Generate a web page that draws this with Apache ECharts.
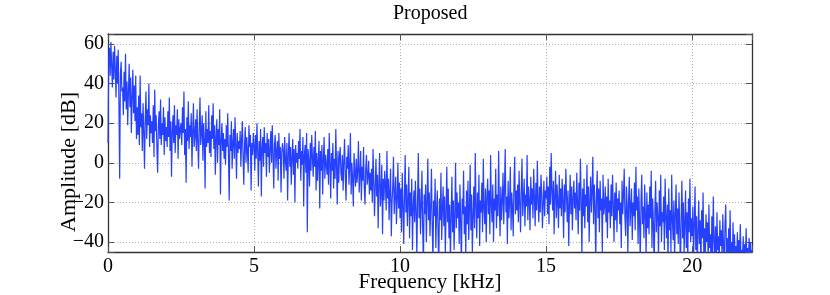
<!DOCTYPE html>
<html>
<head>
<meta charset="utf-8">
<script src="https://cdn.jsdelivr.net/npm/echarts@6/dist/echarts.min.js"></script>
<style>
html,body{margin:0;padding:0;background:#fff;}
#chart{width:830px;height:295px;}
</style>
</head>
<body>
<div id="chart"></div>
<script>
// Frequency spacing of the spectrum samples (kHz)
const freqStep = 0.025;
// Amplitude [dB], 0 - 5 kHz
const amp0to5 = [
  10, 52, 58, 44, 61, 49, 38, 56, 42, 59, 47, 33, 54, 40, 57, 29, -8, 45, 51, 36,
  38, 24, 46, 31, 55, 27, 41, 19, 36, 50, 28, 43, 15, 33, 47, 25, 39, 21, 44, 12,
  28, 14, 34, 9, 44, 18, 25, 6, 30, 16, -3, 22, 36, 12, 27, 19, 40, 8, 24, 15,
  21, 10, 29, 3, 37, 16, 24, 7, -5, 19, 26, 12, 32, 9, 20, 14, 28, 4, 23, 11,
  18, 8, 26, 13, 33, 6, 21, -7, 16, 24, 10, 29, 5, 19, 14, 27, 2, 22, 12, 17,
  20, 9, 28, 15, 36, 4, 17, -10, 23, 11, 31, 7, 19, 13, 25, -2, 16, 30, 8, 14,
  22, 6, 27, 11, -3, 18, 33, 9, 15, 24, 1, 20, 12, -13, 26, 8, 17, 10, 29, 5,
  16, 3, 24, 12, 30, 7, 19, -6, 13, 22, 0, 17, 9, 27, -16, 11, 20, 6, 15, 2,
  12, -1, 19, 8, 25, 4, -19, 14, 6, 21, -3, 10, 17, 2, 23, 9, -8, 15, 5, 11,
  7, 16, -2, 12, 21, 3, -11, 9, 18, 0, 13, 6, -5, 19, 8, 14, -14, 10, 4, 15
];
// 5 - 10 kHz
const amp5to10 = [
  9, -4, 14, 2, 20, 6, -12, 11, 1, 17, -17, 8, 13, -2, 18, 5, 10, -7, 15, 3,
  12, -5, 7, 16, 0, 19, 4, -13, 9, 14, -3, 6, 11, -9, 15, 2, 8, -15, 5, 10,
  6, -8, 13, 1, -4, 10, -19, 4, 15, -2, 8, -11, 3, 12, -6, 7, -20, 9, 0, 5,
  -3, 11, 2, 17, -9, 6, -1, 13, -22, 4, 9, -5, 15, -35, 7, 1, -12, 10, -4, 14,
  3, -7, 8, -2, 16, -14, 5, -9, 1, 11, -23, 6, -4, 9, -16, 2, 13, -8, 4, -1,
  -6, 7, -11, 15, 0, -18, 5, -4, 10, -13, 2, -8, 17, -2, -21, 6, -10, 3, 8, -5,
  -9, 4, -14, 1, 12, -7, -19, 3, -3, 9, -11, -1, 15, -16, 0, -8, -22, 5, -5, -12,
  2, -10, -4, 11, -15, -6, 6, -19, -2, -9, 8, -13, -21, -3, 4, -11, -7, 1, -16, -5,
  -14, -3, -20, 7, -9, -27, -12, 2, -17, -6, -33, -10, 5, -22, -15, -1, -36, -8, -19, -4,
  -11, -24, 6, -18, -8, -29, -14, -3, -37, -20, -12, 3, -26, -16, -7, -31, -19, 0, -23, -10
];
// 10 - 15 kHz
const amp10to15 = [
  -28, -13, -35, -5, -21, -41, -17, 4, -25, -11, -32, -19, -2, -38, -15, -27, -8, -44, -22, -14,
  -30, -9, -24, -47, -18, 5, -28, -13, -36, -21, -4, -33, -52, -16, -26, -11, -40, -20, 2, -29,
  -15, -37, -22, -3, -31, -50, -19, -27, -8, -43, -24, -14, -34, -55, -18, -29, -5, -39, -23, -12,
  -32, -17, -46, -25, -2, -30, -13, -38, -21, -49, -27, -7, -35, -19, -44, -26, 0, -33, -15, -28,
  -20, -41, -11, -30, -53, -18, -26, -4, -36, -22, -47, -14, -31, -9, -39, -24, -1, -34, -16, -45,
  -27, -12, -33, 5, -21, -38, -15, -28, -6, -42, -19, -25, -10, -35, 2, -23, -31, -13, -40, -17,
  -8, -26, -14, -36, 4, -21, -30, -11, -40, -18, -24, -3, -33, -16, -27, 6, -22, -37, -12, -29,
  -19, -5, -31, -13, 7, -25, -17, -41, -9, -28, -20, -2, -34, -15, -23, -37, -10, 3, -26, -14,
  -24, -11, -30, -4, -20, -35, -14, 2, -27, -18, -8, -32, -16, -22, 4, -29, -12, -19, -34, -7,
  -21, -13, -28, -3, -17, -32, -10, -24, 1, -19, -30, -12, -25, -6, -15, -33, -20, -9, -27, -14
];
// 15 - 22.05 kHz
const amp15to22 = [
  -18, -7, -26, -12, -31, -2, -21, 5, -14, -24, -9, -36, -16, -4, -28, -11, -20, -33, -6, -23,
  -13, -27, -8, -19, -38, -11, -25, -3, -17, -30, -14, -42, -21, -6, -26, -12, -34, -18, -9, -23,
  -15, -29, -5, -20, -36, -10, -24, 2, -18, -47, -13, -27, -8, -33, -16, -22, -1, -30, -12, -40,
  -19, -7, -25, -14, 3, -31, -11, -21, -52, -16, -4, -28, -13, -35, -9, -24, -18, -45, -6, -26,
  -22, -12, -30, -17, -38, -8, -25, -19, -33, -11, -27, -6, -21, -40, -15, -29, -10, -35, -18, -24,
  -14, -31, -20, -43, -9, -26, -16, -3, -28, -37, -12, -22, -46, -18, -7, -32, -23, -13, -39, -20,
  -27, -10, -34, -2, -24, -17, -41, -13, -29, -50, -19, -6, -31, -22, -38, -11, -26, -47, -15, -33,
  -21, -36, -12, -28, -4, -43, -18, -31, -55, -24, -9, -35, -20, -27, -48, -14, -32, -6, -40, -25,
  -30, -17, -44, -8, -27, -38, -21, -52, -13, -34, -24, -45, -6, -29, -39, -19, -50, -26, -11, -36,
  -23, -41, -15, -33, -55, -27, -9, -38, -20, -46, -30, -14, -43, -25, -52, -18, -35, -8, -40, -28,
  -37, -22, -48, -31, -12, -44, -27, -53, -35, -19, -41, -29, -56, -24, -38, -15, -46, -33, -50, -26,
  -40, -30, -51, -21, -43, -36, -55, -27, -47, -17, -39, -49, -32, -58, -25, -44, -37, -52, -29, -42,
  -34, -48, -26, -43, -54, -31, -21, -46, -38, -57, -33, -45, -24, -50, -40, -55, -30, -47, -36, -52,
  -42, -49, -35, -53, -39, -46, -31, -51, -44, -48, -37, -56, -41, -47, -33, -52, -43, -50, -38, -45,
  -40, -48, -44
];
const xTickLabels = [0, 5, 10, 15, 20];
const yTickLabels = [-40, -20, 0, 20, 40, 60];
const titleText = 'Proposed';
const xName = 'Frequency [kHz]';
const yName = 'Amplitude [dB]';

const amps = amp0to5.concat(amp5to10, amp10to15, amp15to22);
const seriesData = amps.map((v, i) => [Math.round(i * freqStep * 1000) / 1000, v]);

const FONT = 'Liberation Serif';
const chart = echarts.init(document.getElementById('chart'), null, {renderer: 'canvas'});
const tickStyle = {show: true, inside: true, length: 6, lineStyle: {color: '#555', width: 1}};
const axisLineStyle = {show: true, onZero: false, lineStyle: {color: '#333', width: 1.3}};
const gridLine = {show: true, lineStyle: {color: '#b0b0b0', type: [1, 2], width: 1}};

chart.setOption({
  animation: false,
  backgroundColor: '#fff',
  title: {
    text: titleText, left: 388, top: -1,
    textStyle: {fontFamily: FONT, fontSize: 20, fontWeight: 'normal', color: '#000'}
  },
  grid: {left: 108, right: 78, top: 34, bottom: 43, containLabel: false, outerBoundsMode: 'none'},
  xAxis: [{
    type: 'value', min: 0, max: 22.05, splitNumber: 5,
    name: xName, nameLocation: 'middle', nameGap: 20, nameMoveOverlap: false,
    nameTextStyle: {fontFamily: FONT, fontSize: 21, color: '#000'},
    axisLine: axisLineStyle, axisTick: tickStyle, splitLine: gridLine,
    axisLabel: {
      fontFamily: FONT, fontSize: 20, color: '#000', margin: 5,
      formatter: v => (xTickLabels.indexOf(v) >= 0 ? String(v) : '')
    }
  }, {
    type: 'value', min: 0, max: 22.05, splitNumber: 5, position: 'top',
    axisLine: axisLineStyle, axisTick: tickStyle, splitLine: {show: false},
    axisLabel: {show: false}
  }],
  yAxis: [{
    type: 'value', min: -45, max: 65, splitNumber: 5,
    name: yName, nameLocation: 'middle', nameGap: 28, nameRotate: 90, nameMoveOverlap: false,
    nameTextStyle: {fontFamily: FONT, fontSize: 22, color: '#000', padding: [0, 38, 0, 0]},
    axisLine: axisLineStyle, axisTick: tickStyle, splitLine: gridLine,
    axisLabel: {
      fontFamily: FONT, fontSize: 20, color: '#000', margin: 4,
      formatter: v => (yTickLabels.indexOf(v) >= 0 ? (v < 0 ? '\u2212' + Math.abs(v) : String(v)) : '')
    }
  }, {
    type: 'value', min: -45, max: 65, splitNumber: 5, position: 'right',
    axisLine: axisLineStyle, axisTick: tickStyle, splitLine: {show: false},
    axisLabel: {show: false}
  }],
  series: [{
    type: 'line', xAxisIndex: 0, yAxisIndex: 0,
    data: seriesData, showSymbol: false, clip: true,
    lineStyle: {color: '#2540ff', width: 1.2},
    emphasis: {disabled: true}
  }]
});
</script>
</body>
</html>
